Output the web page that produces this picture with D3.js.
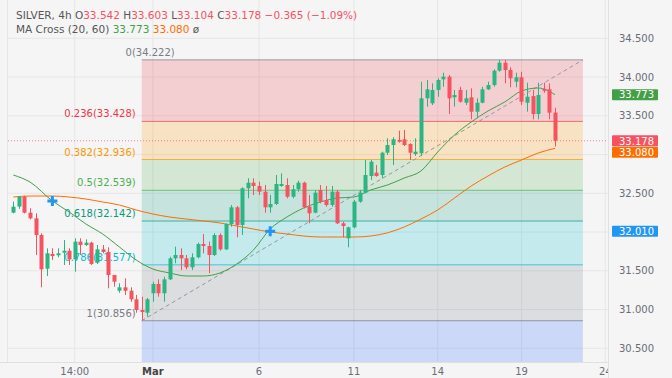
<!DOCTYPE html>
<html>
<head>
<meta charset="utf-8">
<title>SILVER 4h</title>
<script src="https://cdn.jsdelivr.net/npm/d3@7"></script>
<style>
  body { margin: 0; background: #f5f5f5; }
  svg { display: block; font-family: "DejaVu Sans", sans-serif; }
</style>
</head>
<body>
<svg id="chart" width="672" height="378"></svg>
<script>
// candles, one per 4h bar
const opens  = [32.250,32.328,32.457,32.250,32.177,31.962,31.527,31.717,31.700,31.733,31.759,31.648,31.876,31.833,31.863,31.605,31.777,31.743,31.446,31.243,
                31.287,31.243,31.132,30.994,30.959,31.210,31.330,31.210,31.390,31.661,31.704,31.661,31.545,31.674,31.846,31.820,31.704,31.962,31.777,32.104,
                32.319,32.091,32.565,32.637,32.594,32.521,32.319,32.362,32.594,32.607,32.456,32.552,32.637,32.327,32.250,32.543,32.414,32.349,32.521,32.113,
                31.919,32.061,32.392,32.508,32.723,32.766,32.736,33.024,33.123,33.188,33.197,33.136,33.007,33.016,33.726,33.661,33.833,33.971,34.005,33.739,
                33.833,33.669,33.739,33.553,33.669,33.842,33.897,34.082,34.185,34.091,33.940,33.997,33.669,33.755,33.523,33.846,33.842,33.542];
const highs  = [32.392,32.466,32.470,32.307,32.242,31.983,31.790,31.790,31.790,31.898,31.790,31.920,31.920,31.906,31.876,31.833,31.833,31.803,31.446,31.339,
                31.403,31.287,31.188,31.166,31.149,31.359,31.390,31.424,31.682,31.811,31.790,31.704,31.726,31.863,31.975,31.876,31.984,31.984,32.113,32.349,
                32.336,32.577,32.694,32.694,32.650,32.607,32.478,32.736,32.758,32.694,32.607,32.663,32.650,32.478,32.543,32.607,32.594,32.594,32.543,32.134,
                32.069,32.414,32.543,32.930,32.930,32.865,33.037,33.210,33.223,33.308,33.317,33.145,33.210,33.940,33.962,33.919,33.984,34.056,34.026,33.833,
                33.875,33.833,33.855,33.726,33.875,33.940,34.100,34.222,34.222,34.126,34.056,34.069,33.927,33.833,33.927,33.927,33.919,33.603];
const lows   = [32.242,32.300,32.240,32.164,31.704,31.287,31.433,31.640,31.674,31.575,31.575,31.489,31.704,31.820,31.575,31.588,31.726,31.274,31.295,31.217,
                31.188,31.101,30.959,30.856,30.908,31.101,31.166,31.101,31.381,31.597,31.510,31.519,31.510,31.661,31.726,31.468,31.691,31.759,31.768,32.069,
                31.932,31.962,32.435,32.478,32.478,32.250,32.250,32.349,32.585,32.435,32.435,32.521,32.306,32.113,32.242,32.371,32.327,32.327,32.104,31.932,
                31.803,32.048,32.379,32.500,32.672,32.714,32.694,32.994,32.865,33.153,33.110,32.930,32.981,32.981,33.617,33.639,33.746,33.875,33.523,33.617,
                33.669,33.639,33.455,33.468,33.661,33.833,33.875,34.069,33.919,33.868,33.868,33.639,33.553,33.455,33.455,33.798,33.455,33.104];
const closes = [32.327,32.457,32.250,32.177,31.962,31.519,31.726,31.691,31.726,31.759,31.648,31.876,31.833,31.863,31.588,31.777,31.743,31.446,31.360,31.287,
                31.243,31.132,30.994,30.968,31.132,31.330,31.210,31.390,31.661,31.704,31.661,31.545,31.674,31.846,31.820,31.704,31.962,31.777,32.104,32.319,
                32.091,32.565,32.637,32.594,32.521,32.319,32.362,32.620,32.620,32.456,32.552,32.637,32.319,32.242,32.508,32.392,32.349,32.521,32.113,32.078,
                32.061,32.392,32.508,32.736,32.908,32.723,33.024,33.123,33.197,33.166,33.123,33.024,33.037,33.726,33.842,33.833,33.962,34.005,33.726,33.768,
                33.682,33.726,33.553,33.669,33.842,33.897,34.082,34.185,34.091,33.984,33.997,33.682,33.746,33.523,33.768,33.824,33.540,33.178];
const lastChange = -0.365, lastChangePct = -1.09;

// moving averages read at sample bars
const maBars = [0,3,7,10,13,16,19,22,25,28,31,34,37,40,43,46,49,52,55,58,61,64,67,70,73,76,79,82,85,88,91,94,97];
const ma20 = [32.736,32.645,32.401,32.259,32.104,31.975,31.807,31.640,31.523,31.472,31.433,31.433,31.472,31.588,31.768,32.039,32.194,
              32.310,32.388,32.439,32.452,32.543,32.607,32.697,32.788,33.033,33.252,33.420,33.562,33.678,33.820,33.859,33.773];
const ma60 = [32.452,32.465,32.465,32.452,32.426,32.388,32.349,32.285,32.233,32.194,32.168,32.143,32.117,32.078,32.039,32.001,31.975,
              31.949,31.936,31.936,31.936,31.949,31.990,32.065,32.168,32.285,32.439,32.594,32.723,32.839,32.930,33.020,33.080];
const crossBars = [7, 46];
const crossPrices = [32.40, 32.010];

// fibonacci retracement
const fibRatios = [0, 0.236, 0.382, 0.5, 0.618, 0.786, 1];
const fibPrices = [34.222, 33.428, 32.936, 32.539, 32.142, 31.577, 30.856];
const fibColors = ["#787b86", "#f23645", "#ff9800", "#4caf50", "#089981", "#00bcd4", "#787b86"];
const fibStartBar = 23, fibEndBar = 102;

const priceTicks = [30.5, 31, 31.5, 32, 32.5, 33, 33.5, 34, 34.5];
const timeBars = [11, 25, 44, 61, 76, 91, 106];
const timeLabels = ["14:00", "Mar", "6", "11", "14", "19", "24"];

const W = 672, H = 378;
const plotR = 608, plotB = 362, plotL = 8;
const upColor = "#2bb583", downColor = "#f7525f";
const ma20Color = "#43a047", ma60Color = "#ff6d00";

const svg = d3.select("#chart");
const x = d3.scaleLinear().domain([0, 97]).range([13.3, 555]);
const y = d3.scaleLinear().domain([30.5, 34.5]).range([348.3, 38.3]);

svg.append("rect").attr("width", W).attr("height", H).attr("fill", "#f5f5f5");

svg.append("clipPath").attr("id", "plot")
  .append("rect").attr("x", plotL).attr("y", 0).attr("width", plotR - plotL).attr("height", plotB);
const g = svg.append("g").attr("clip-path", "url(#plot)");

// grid
g.append("g").selectAll("line").data(priceTicks).join("line")
  .attr("x1", plotL).attr("x2", plotR).attr("y1", d => y(d)).attr("y2", d => y(d))
  .attr("stroke", "#e6e6e6");
g.append("g").selectAll("line").data(timeBars).join("line")
  .attr("x1", d => x(d)).attr("x2", d => x(d)).attr("y1", 0).attr("y2", plotB)
  .attr("stroke", "#e6e6e6");

// fib bands
const fx0 = x(fibStartBar), fx1 = x(fibEndBar);
const bands = fibPrices.slice(1).map((p, i) => ({ top: fibPrices[i], bot: p, color: fibColors[i + 1] }));
g.append("g").selectAll("rect").data(bands).join("rect")
  .attr("x", fx0).attr("width", fx1 - fx0)
  .attr("y", d => y(d.top)).attr("height", d => y(d.bot) - y(d.top))
  .attr("fill", d => d.color).attr("fill-opacity", 0.2);
g.append("rect")
  .attr("x", fx0).attr("width", fx1 - fx0)
  .attr("y", y(fibPrices[6])).attr("height", plotB - y(fibPrices[6]))
  .attr("fill", "#2962ff").attr("fill-opacity", 0.2);
g.append("g").selectAll("line").data(fibPrices).join("line")
  .attr("x1", fx0).attr("x2", fx1)
  .attr("y1", d => y(d)).attr("y2", d => y(d))
  .attr("stroke", (d, i) => fibColors[i]).attr("stroke-opacity", 0.7);
g.append("g").attr("font-size", 10).attr("text-anchor", "end")
  .selectAll("text").data(fibPrices).join("text")
  .attr("x", (d, i) => i === 0 ? fx0 + 33 : fx0 - 6)
  .attr("y", d => y(d) - 4)
  .attr("fill", (d, i) => fibColors[i])
  .text((d, i) => `${fibRatios[i]}(${d.toFixed(3)})`);

// trend line of the fib
g.append("line")
  .attr("x1", fx0).attr("y1", y(fibPrices[6]))
  .attr("x2", fx1).attr("y2", y(fibPrices[0]))
  .attr("stroke", "#9598a1").attr("stroke-dasharray", "4,3");

// last price dotted line
g.append("line")
  .attr("x1", plotL).attr("x2", plotR)
  .attr("y1", y(closes[97])).attr("y2", y(closes[97]))
  .attr("stroke", downColor).attr("stroke-opacity", 0.7).attr("stroke-dasharray", "1,2");

// moving averages
const line = d3.line().x((d, i) => x(maBars[i])).y(d => y(d)).curve(d3.curveMonotoneX);
g.append("path").attr("d", line(ma60)).attr("fill", "none").attr("stroke", ma60Color).attr("stroke-width", 1);
g.append("path").attr("d", line(ma20)).attr("fill", "none").attr("stroke", ma20Color).attr("stroke-width", 1);

// candles
const bars = d3.range(opens.length);
const cg = g.append("g");
cg.selectAll("line").data(bars).join("line")
  .attr("x1", i => Math.round(x(i)) + 0.5).attr("x2", i => Math.round(x(i)) + 0.5)
  .attr("y1", i => y(highs[i])).attr("y2", i => y(lows[i]))
  .attr("stroke", i => closes[i] >= opens[i] ? upColor : downColor);
cg.selectAll("rect").data(bars).join("rect")
  .attr("x", i => Math.round(x(i)) - 1.5).attr("width", 4)
  .attr("y", i => y(Math.max(opens[i], closes[i])))
  .attr("height", i => Math.max(1, Math.abs(y(opens[i]) - y(closes[i]))))
  .attr("fill", i => closes[i] >= opens[i] ? upColor : downColor);

// cross markers
g.append("g").selectAll("path").data(crossBars).join("path")
  .attr("d", (d, i) => {
    const cx = x(d), cy = y(crossPrices[i]);
    return `M${cx - 5},${cy}H${cx + 5}M${cx},${cy - 5}V${cy + 5}`;
  })
  .attr("stroke", "#2196f3").attr("stroke-width", 3);

// axes borders
svg.append("line").attr("x1", plotR + 0.5).attr("x2", plotR + 0.5).attr("y1", 0).attr("y2", H).attr("stroke", "#e0e0e0");
svg.append("line").attr("x1", 0).attr("x2", plotR).attr("y1", plotB + 0.5).attr("y2", plotB + 0.5).attr("stroke", "#e0e0e0");
svg.append("line").attr("x1", plotL - 0.5).attr("x2", plotL - 0.5).attr("y1", 0).attr("y2", plotB).attr("stroke", "#e6e6e6");

// price boxes on the axis
const boxes = [
  { v: ma20[ma20.length - 1], c: ma20Color, dy: 0 },
  { v: closes[97], c: downColor, dy: 0 },
  { v: ma60[ma60.length - 1], c: ma60Color, dy: 4 },
  { v: crossPrices[1], c: "#2196f3", dy: 0 }
];

// price axis, labels hidden where a price box sits
const freeTicks = priceTicks.filter(t => boxes.every(b => Math.abs(y(t) - (y(b.v) + b.dy)) > 9));
svg.append("g").attr("font-size", 10).attr("fill", "#6a6d78")
  .selectAll("text").data(freeTicks).join("text")
  .attr("x", 619).attr("y", d => y(d) + 3.5)
  .text(d => d.toFixed(3));

// time axis
svg.append("clipPath").attr("id", "taxis")
  .append("rect").attr("x", 0).attr("y", plotB).attr("width", plotR).attr("height", H - plotB);
svg.append("g").attr("clip-path", "url(#taxis)").attr("font-size", 10).attr("text-anchor", "middle")
  .selectAll("text").data(timeBars).join("text")
  .attr("x", d => x(d)).attr("y", 375)
  .attr("fill", (d, i) => timeLabels[i] === "Mar" ? "#444" : "#6a6d78")
  .attr("font-weight", (d, i) => timeLabels[i] === "Mar" ? "bold" : "normal")
  .text((d, i) => timeLabels[i]);

const bg = svg.append("g").selectAll("g").data(boxes).join("g")
  .attr("transform", d => `translate(612,${y(d.v) + d.dy})`);
bg.append("rect").attr("x", 0).attr("y", -5.5).attr("width", 46).attr("height", 11).attr("rx", 1).attr("fill", d => d.c);
bg.append("text").attr("x", 7).attr("y", 3.8).attr("font-size", 10).attr("fill", "#fff").text(d => d.v.toFixed(3));

// legend
const l1 = svg.append("text").attr("x", 16).attr("y", 19).attr("font-size", 10.5).attr("fill", "#555");
l1.append("tspan").text("SILVER, 4h  O");
l1.append("tspan").attr("fill", downColor).text(opens[97].toFixed(3));
l1.append("tspan").text("  H");
l1.append("tspan").attr("fill", downColor).text(highs[97].toFixed(3));
l1.append("tspan").text("  L");
l1.append("tspan").attr("fill", downColor).text(lows[97].toFixed(3));
l1.append("tspan").text("  C");
l1.append("tspan").attr("fill", downColor).text(closes[97].toFixed(3));
l1.append("tspan").attr("fill", downColor)
  .text(`  \u2212${Math.abs(lastChange).toFixed(3)} (\u2212${Math.abs(lastChangePct).toFixed(2)}%)`);
const l2 = svg.append("text").attr("x", 16).attr("y", 33).attr("font-size", 10.5).attr("fill", "#555");
l2.append("tspan").text("MA Cross (20, 60)  ");
l2.append("tspan").attr("fill", ma20Color).text(ma20[ma20.length - 1].toFixed(3));
l2.append("tspan").text("  ");
l2.append("tspan").attr("fill", ma60Color).text(ma60[ma60.length - 1].toFixed(3));
l2.append("tspan").text("  \u00f8");
</script>
</body>
</html>
